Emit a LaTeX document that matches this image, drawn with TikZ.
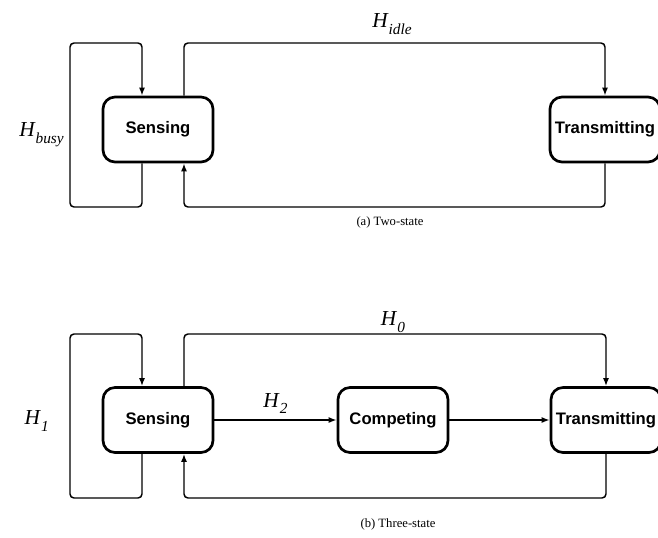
\documentclass[tikz,border=0pt]{standalone}
\usepackage{fontspec}
\setmainfont{Liberation Serif}
\newfontfamily\boxfont{Liberation Sans}
\usetikzlibrary{positioning,arrows.meta,calc}
\tikzset{
  statebox/.style={draw,line width=2pt,rounded corners=9pt,minimum width=82.5pt,
    minimum height=48.75pt,inner sep=1pt,font=\boxfont\bfseries\fontsize{12.5}{14}\selectfont},
  trans/.style={draw,-{Latex[length=6pt,width=4.5pt]},line width=1.1pt,rounded corners=3pt},
  every edge/.style={draw,-{Latex[length=6pt,width=4.5pt]},line width=1.1pt},
  hlabel/.style={font=\fontsize{16}{18}\selectfont,inner sep=0pt},
  subcap/.style={font=\fontsize{9.5}{11}\selectfont,inner sep=0pt},
}
\newcommand{\hsub}[1]{\textit{H}\raisebox{-0.7ex}{\fontsize{11.5}{12}\selectfont\textit{#1}}}

\begin{document}
\begin{tikzpicture}[x=0.75pt,y=-0.75pt]
\useasboundingbox (0,0) rectangle (658,537);

\node[statebox] (sense1) at (158,129.5) {Sensing};
\node[statebox] (trans1) at (605,129.5) {Transmitting};

\coordinate (busytop1) at (70,43);
\coordinate (busybot1) at (70,207);
\coordinate (idletop) at (392,43);
\coordinate (idlebot) at (392,207);

\draw[trans] ([xshift=-12pt]sense1.south) |- (busybot1) -- (busytop1) -| ([xshift=-12pt]sense1.north);
\draw[trans] ([xshift=19.5pt]sense1.north) |- (idletop) -| (trans1.north);
\draw[trans] (trans1.south) |- (idlebot) -| ([xshift=19.5pt]sense1.south);

\node[hlabel,anchor=east] (hbusy) at (64,135) {\hsub{busy}};
\node[hlabel,above=6pt of idletop] (hidle) {\hsub{idle}};

\node[subcap] (capa) at (390,222) {(a) Two-state};

\node[statebox] (sense2) at (158,420) {Sensing};
\node[statebox] (comp2) at (393,420) {Competing};
\node[statebox] (trans2) at (606,420) {Transmitting};

\coordinate (onetop) at (70,334);
\coordinate (onebot) at (70,498);
\coordinate (zerotop) at (393,334);
\coordinate (zerobot) at (393,498);

\draw[trans] ([xshift=-12pt]sense2.south) |- (onebot) -- (onetop) -| ([xshift=-12pt]sense2.north);
\draw[trans] ([xshift=19.5pt]sense2.north) |- (zerotop) -| (trans2.north);
\draw[trans] (trans2.south) |- (zerobot) -| ([xshift=19.5pt]sense2.south);

\path (sense2) edge node[hlabel,above=4pt] (htwo) {\hsub{2}} (comp2)
      (comp2) edge (trans2);

\node[hlabel,anchor=east] (hone) at (49,421) {\hsub{1}};
\node[hlabel,above=1pt of zerotop] (hzero) {\hsub{0}};

\node[subcap] (capb) at (398,524) {(b) Three-state};

\end{tikzpicture}
\end{document}
